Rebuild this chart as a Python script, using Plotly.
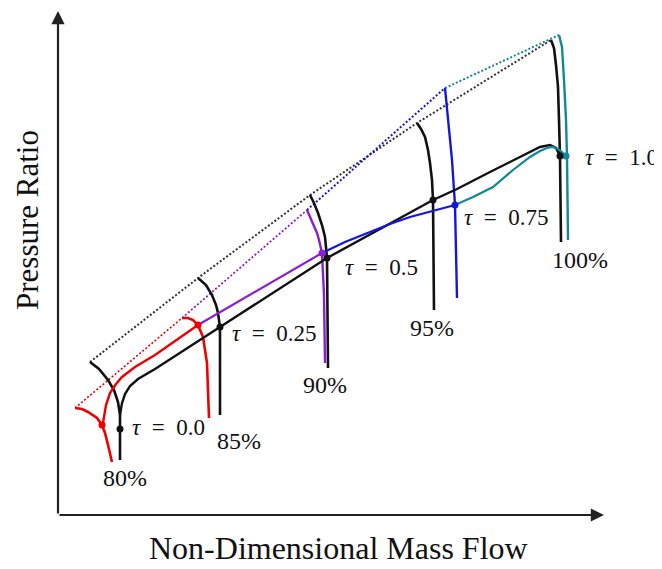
import plotly.graph_objects as go

# ---- data (arbitrary schematic units, origin at axes corner) ----
# speed lines (black baseline map)
blk80_x = [32, 41, 50, 56, 60, 62, 62, 62]
blk80_y = [153, 146, 135, 125, 113, 100, 86, 55]
blk85_x = [140, 148, 154, 158, 160, 161, 162, 162]
blk85_y = [237, 230, 220, 210, 202, 195, 188, 100]
blk90_x = [252, 256, 260, 264, 267, 268, 269, 270]
blk90_y = [320, 312, 302, 290, 278, 268, 257, 147]
blk95_x = [359, 363, 367, 370, 372, 374, 375, 376]
blk95_y = [392, 386, 378, 365, 352, 335, 315, 205]
blk100_x = [493, 496, 498, 500, 501, 502, 503]
blk100_y = [475, 467, 450, 428, 395, 358, 273]
# surge line (black)
blk_surge_x = [32, 140, 252, 359, 493]
blk_surge_y = [153, 237, 320, 392, 475]
# operating line (black)
blk_op_x = [62, 64, 67, 72, 80, 90, 97, 162, 269, 375, 399, 432, 465, 482, 492, 498, 502]
blk_op_y = [100, 112, 121, 129, 136, 142, 146, 188, 257, 315, 326, 343, 360, 368, 370, 367, 359]
blk_pts_x = [62, 162, 269, 375, 502]
blk_pts_y = [86, 188, 257, 315, 359]

# transient (coloured) segments
red_surge_x = [17, 124]
red_surge_y = [107, 197]
red80_x = [17, 24, 30, 39, 44, 47, 50, 54]
red80_y = [107, 106, 103, 97, 90, 82, 70, 53]
red_op_x = [45, 46, 48, 52, 58, 64, 77, 97, 140]
red_op_y = [92, 100, 110, 122, 131, 138, 148, 160, 190]
red85_x = [124, 130, 135, 140, 145, 147, 149, 151]
red85_y = [197, 197, 195, 190, 178, 165, 152, 97]
red_pts_x = [44, 140]
red_pts_y = [90, 190]

pur_surge_x = [124, 249]
pur_surge_y = [197, 305]
pur_op_x = [140, 264]
pur_op_y = [190, 262]
pur90_x = [249, 255, 259, 261, 263, 264, 266, 267]
pur90_y = [305, 292, 282, 275, 268, 262, 220, 152]
pur_pts_x = [264]
pur_pts_y = [262]

blu_surge_x = [249, 387]
blu_surge_y = [305, 427]
blu_op_x = [264, 287, 312, 332, 352, 397]
blu_op_y = [262, 273, 283, 291, 298, 310]
blu95_x = [387, 390, 394, 397, 399]
blu95_y = [427, 395, 355, 310, 217]
blu_pts_x = [397]
blu_pts_y = [310]

teal_surge_x = [387, 501]
teal_surge_y = [427, 480]
teal_op_x = [397, 415, 435, 455, 472, 482, 489, 495, 500, 504, 508]
teal_op_y = [310, 318, 328, 345, 358, 364, 367, 368, 366, 363, 359]
teal100_x = [501, 504, 506, 508, 509, 510]
teal100_y = [480, 468, 435, 395, 358, 275]
teal_pts_x = [508]
teal_pts_y = [359]

# labels
speed_labels = ["80%", "85%", "90%", "95%", "100%"]
speed_lab_x = [67, 181, 267, 374, 522]
speed_lab_y = [37, 74, 130, 187, 255]
tau_labels = ["0.0", "0.25", "0.5", "0.75", "1.0"]
tau_lab_x = [72, 172, 285, 404, 525]
tau_lab_y = [88, 182, 248, 298, 358]

BLACK = "#111111"
RED = "#ee0000"
PURPLE = "#8a1fd0"
BLUE = "#1515e0"
TEAL = "#13879a"

fig = go.Figure()

def line(x, y, color, width=2.4, dash="solid"):
    fig.add_trace(go.Scatter(x=x, y=y, mode="lines",
                             line=dict(color=color, width=width, dash=dash),
                             hoverinfo="skip", showlegend=False))

def pts(x, y, color):
    fig.add_trace(go.Scatter(x=x, y=y, mode="markers",
                             marker=dict(color=color, size=7),
                             hoverinfo="skip", showlegend=False))

DOT = "2px,2px"
line(blk_surge_x, blk_surge_y, "#333333", 2, DOT)
line(red_surge_x, red_surge_y, RED, 1.6, DOT)
line(pur_surge_x, pur_surge_y, PURPLE, 1.8, DOT)
line(blu_surge_x, blu_surge_y, BLUE, 2, DOT)
line(teal_surge_x, teal_surge_y, TEAL, 2, DOT)

for sx, sy in [(blk80_x, blk80_y), (blk85_x, blk85_y), (blk90_x, blk90_y),
               (blk95_x, blk95_y), (blk100_x, blk100_y)]:
    line(sx, sy, BLACK, 2.6)

line(red80_x, red80_y, RED, 2.6)
line(red85_x, red85_y, RED, 2.6)
line(pur90_x, pur90_y, PURPLE, 2.4)
line(blu95_x, blu95_y, BLUE, 2.4)
line(teal100_x, teal100_y, TEAL, 2.4)

line(blk_op_x, blk_op_y, BLACK, 2.4)
line(red_op_x, red_op_y, RED, 2.4)
line(pur_op_x, pur_op_y, PURPLE, 2.2)
line(blu_op_x, blu_op_y, BLUE, 2.2)
line(teal_op_x, teal_op_y, TEAL, 2.2)

pts(red_pts_x, red_pts_y, RED)
pts(pur_pts_x, pur_pts_y, PURPLE)
pts(blu_pts_x, blu_pts_y, BLUE)
pts(teal_pts_x, teal_pts_y, TEAL)
pts(blk_pts_x, blk_pts_y, BLACK)

SERIF = "Liberation Serif"
ann = []
for t, x, y in zip(speed_labels, speed_lab_x, speed_lab_y):
    ann.append(dict(x=x, y=y, text=t, showarrow=False, xanchor="center", yanchor="middle",
                    font=dict(family=SERIF, size=24, color="#111111")))
NB = "\u00a0"
for t, x, y in zip(tau_labels, tau_lab_x, tau_lab_y):
    ann.append(dict(x=x, y=y, text="<i>τ</i>" + NB * 2 + "=" + NB * 2 + t, showarrow=False,
                    xanchor="left", yanchor="middle",
                    font=dict(family=SERIF, size=23, color="#111111")))

# axes arrows
ann.append(dict(x=0, y=504, ax=0, ay=0, xref="x", yref="y", axref="x", ayref="y",
                text="", showarrow=True, arrowhead=2, arrowsize=1.2, arrowwidth=2.2,
                arrowcolor="#222222"))
ann.append(dict(x=546, y=0, ax=0, ay=0, xref="x", yref="y", axref="x", ayref="y",
                text="", showarrow=True, arrowhead=2, arrowsize=1.2, arrowwidth=2.2,
                arrowcolor="#222222"))
# axis titles
ann.append(dict(x=280, y=-33, text="Non-Dimensional Mass Flow", showarrow=False,
                xanchor="center", yanchor="middle",
                font=dict(family=SERIF, size=32, color="#111111")))
ann.append(dict(x=-31, y=295, text="Pressure Ratio", showarrow=False, textangle=-90,
                xanchor="center", yanchor="middle", borderpad=0,
                font=dict(family=SERIF, size=31, color="#111111")))

# figure is placed with the page's 8px body margin, so it is 8px smaller
fig.update_layout(
    width=654, height=561,
    margin=dict(l=0, r=0, t=0, b=0),
    paper_bgcolor="white", plot_bgcolor="white",
    xaxis=dict(range=[-50, 604], visible=False, fixedrange=True),
    yaxis=dict(range=[-54, 507], visible=False, fixedrange=True),
    annotations=ann,
)

fig.write_html("out.html")
